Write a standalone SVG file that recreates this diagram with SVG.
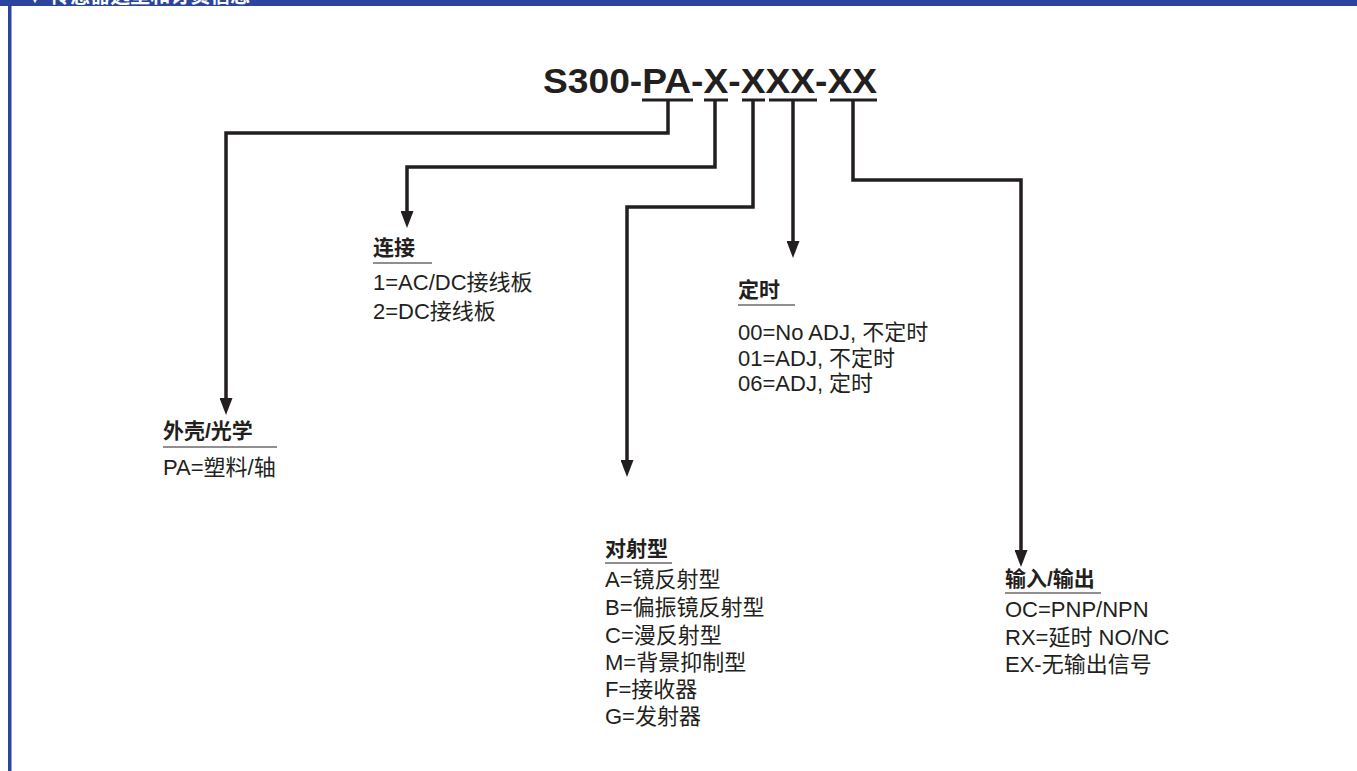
<svg xmlns="http://www.w3.org/2000/svg" width="1357" height="771" viewBox="0 0 1357 771">
<style>
.t{font-family:"Liberation Sans","Noto Sans CJK SC",sans-serif;fill:#231f20}
.h{font-size:21px;font-weight:bold}
.b{font-size:22px}
.w{fill:none;stroke:#231f20;stroke-width:3.5;stroke-linejoin:miter}
.u{stroke:#231f20;stroke-width:3}
.hl{stroke:#231f20;stroke-width:1.2}
</style>
<defs>
<marker id="ah" markerWidth="17" markerHeight="13" refX="9" refY="6.5" orient="auto" markerUnits="userSpaceOnUse" viewBox="0 0 17 13">
<path d="M0,0 L17,6.5 L0,13 Z" fill="#231f20"/>
</marker>
</defs>
<rect x="0" y="0" width="1357" height="771" fill="#ffffff"/>
<rect x="0" y="0" width="1357" height="6" fill="#2a44a0"/>
<rect x="8" y="0" width="3.5" height="771" fill="#2a44a0"/>
<text x="25" y="3" font-family="Liberation Sans,Noto Sans CJK SC,sans-serif" font-size="20" font-weight="bold" fill="#ffffff">▼ 传感器选型和订货信息</text>

<g id="code">
<text class="t" x="543" y="93" font-size="35" font-weight="bold" textLength="334" lengthAdjust="spacingAndGlyphs">S300-PA-X-XXX-XX</text>
<line class="u" x1="642" y1="100" x2="693" y2="100"/>
<line class="u" x1="704" y1="100" x2="728" y2="100"/>
<line class="u" x1="742" y1="100" x2="765" y2="100"/>
<line class="u" x1="769" y1="100" x2="817" y2="100"/>
<line class="u" x1="830" y1="100" x2="877" y2="100"/>
</g>

<g id="connectors">
<polyline class="w" points="668,100 668,133 226,133 226,407" marker-end="url(#ah)"/>
<polyline class="w" points="715,100 715,167 407,167 407,220" marker-end="url(#ah)"/>
<polyline class="w" points="753,100 753,207 627,207 627,469" marker-end="url(#ah)"/>
<polyline class="w" points="793,100 793,250" marker-end="url(#ah)"/>
<polyline class="w" points="853,100 853,180 1021,180 1021,559" marker-end="url(#ah)"/>
</g>

<g id="housing">
<text class="t h" x="163" y="438">外壳/光学</text>
<line class="hl" x1="163" y1="447" x2="277" y2="447"/>
<text class="t b" x="163" y="475">PA=塑料/轴</text>
</g>

<g id="connection">
<text class="t h" x="373" y="255">连接</text>
<line class="hl" x1="373" y1="263" x2="432" y2="263"/>
<text class="t b" x="373" y="290">1=AC/DC接线板</text>
<text class="t b" x="373" y="319">2=DC接线板</text>
</g>

<g id="timing">
<text class="t h" x="738" y="297">定时</text>
<line class="hl" x1="738" y1="305" x2="795" y2="305"/>
<text class="t b" x="738" y="340">00=No ADJ, 不定时</text>
<text class="t b" x="738" y="366">01=ADJ, 不定时</text>
<text class="t b" x="738" y="391">06=ADJ, 定时</text>
</g>

<g id="type">
<text class="t h" x="605" y="556">对射型</text>
<line class="hl" x1="605" y1="563" x2="672" y2="563"/>
<text class="t b" x="605" y="587">A=镜反射型</text>
<text class="t b" x="605" y="615">B=偏振镜反射型</text>
<text class="t b" x="605" y="643">C=漫反射型</text>
<text class="t b" x="605" y="670">M=背景抑制型</text>
<text class="t b" x="605" y="697">F=接收器</text>
<text class="t b" x="605" y="724">G=发射器</text>
</g>

<g id="io">
<text class="t h" x="1005" y="586">输入/输出</text>
<line class="hl" x1="1005" y1="593" x2="1101" y2="593"/>
<text class="t b" x="1005" y="617">OC=PNP/NPN</text>
<text class="t b" x="1005" y="645">RX=延时 NO/NC</text>
<text class="t b" x="1005" y="672">EX-无输出信号</text>
</g>
</svg>
